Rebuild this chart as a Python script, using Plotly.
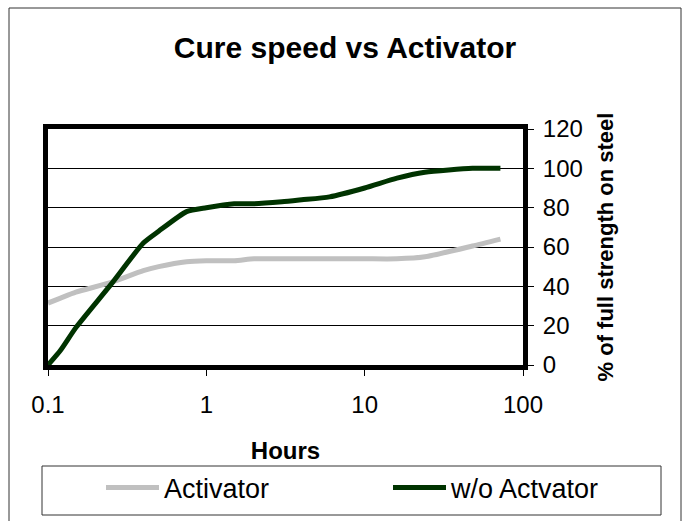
import plotly.graph_objects as go

hours = [0.1, 0.12, 0.15, 0.25, 0.4, 0.5, 0.75, 1, 1.5, 2, 3, 4, 6, 10, 16, 24, 48, 72]
activator = [31.5, 34, 37, 42, 48, 50, 52.5, 53, 53, 54, 54, 54, 54, 54, 54, 55, 60.5, 64]
without_activator = [0, 7.5, 19, 41, 62, 68, 78, 80, 82, 82, 83, 84, 85.5, 90, 95, 98, 100, 100]

x_ticks = [0.1, 1, 10, 100]
x_tick_labels = ["0.1", "1", "10", "100"]

FONT = "Liberation Sans, Arial, sans-serif"

L, R, T, B = 48, 168, 129, 156
W, H = 691, 521
pw = W - L - R
ph = H - T - B

def px(x):
    return (x - L) / pw

def py(y):
    return (H - B - y) / ph

fig = go.Figure()
fig.add_trace(go.Scatter(x=hours, y=activator, name="Activator", mode="lines", legend="legend",
                         line=dict(color="#C0C0C0", width=5, shape="spline", smoothing=0.6)))
fig.add_trace(go.Scatter(x=hours, y=without_activator, name="w/o Actvator", mode="lines", legend="legend2",
                         line=dict(color="#003300", width=5, shape="spline", smoothing=0.6)))

legend_common = dict(orientation="h", xanchor="left", yanchor="middle", y=py(488),
                     font=dict(size=27, color="black"), itemwidth=53,
                     bgcolor="rgba(0,0,0,0)", borderwidth=0)

fig.update_layout(
    width=W, height=H,
    margin=dict(l=L, r=R, t=T, b=B, autoexpand=False),
    paper_bgcolor="white", plot_bgcolor="white",
    font=dict(family=FONT, color="black"),
    title=dict(text="<b>Cure speed vs Activator</b>", x=345 / W, xanchor="center",
               y=1 - 47 / H, yanchor="middle", font=dict(size=30)),
    showlegend=True,
    legend=dict(legend_common, x=px(101)),
    legend2=dict(legend_common, x=px(388)),
    xaxis=dict(type="log", range=[-1, 2], tickvals=x_ticks, ticktext=x_tick_labels,
               showline=True, linewidth=5, linecolor="black", mirror=True,
               ticks="outside", ticklen=6, tickcolor="black", tickwidth=1,
               showgrid=False, zeroline=False, tickfont=dict(size=24),
               ticklabelstandoff=8, automargin=False,
               title=dict(text="<b>Hours</b>", font=dict(size=24), standoff=27)),
    yaxis=dict(range=[0, 120], dtick=20, side="right",
               showline=True, linewidth=5, linecolor="black", mirror=True,
               ticks="outside", ticklen=6, tickcolor="black", tickwidth=1,
               showgrid=True, gridcolor="black", gridwidth=1, zeroline=False,
               tickfont=dict(size=24), ticklabelstandoff=4, automargin=False,
               title=dict(text="<b>% of full strength on steel</b>", font=dict(size=22), standoff=17)),
    shapes=[
        dict(type="rect", xref="paper", yref="paper", x0=px(9), x1=px(681), y0=py(530), y1=py(8),
             line=dict(color="#333333", width=1), fillcolor="rgba(0,0,0,0)", layer="below"),
        dict(type="rect", xref="paper", yref="paper", x0=px(42), x1=px(661), y0=py(515), y1=py(466),
             line=dict(color="#333333", width=1), fillcolor="rgba(0,0,0,0)", layer="below"),
    ],
)

fig.write_html("out.html", config={"displayModeBar": False},
               post_script="document.body.style.margin='0px';")
